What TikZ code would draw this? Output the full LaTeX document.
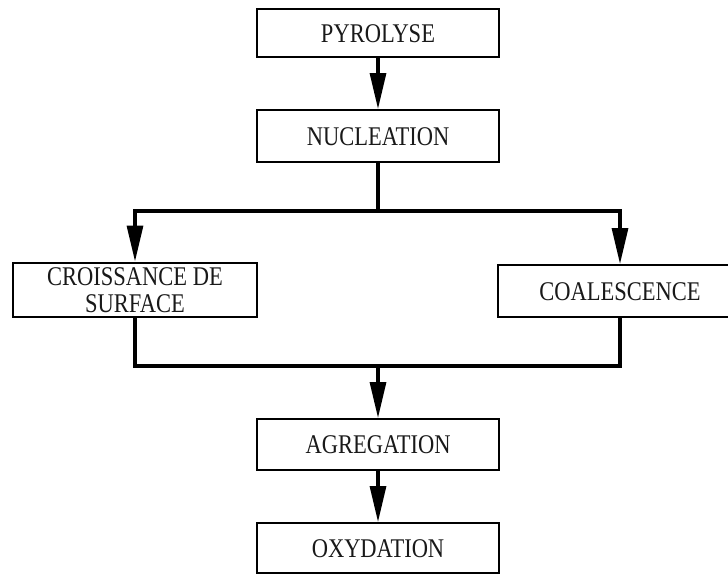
\documentclass[tikz,border=0pt]{standalone}
\usepackage{fontspec}
\setmainfont{Liberation Serif}
\usepackage{graphicx}
\usetikzlibrary{arrows.meta}
\newcommand{\boxtxt}[1]{\raisebox{-4pt}[\height][\depth]{\scalebox{1}[1.2]{\begin{tabular}{@{}c@{}}#1\end{tabular}}}}
\tikzset{
  stepbox/.style={draw=black, line width=2pt, minimum width=242pt, inner sep=0pt,
    font=\fontsize{22.5}{22.5}\selectfont, text=black!90},
  conn/.style={line width=3.2pt, line join=miter, draw=black},
  arr/.style={conn, -{Triangle[length=36pt 0, width=16pt 0]}}
}
\begin{document}
\begin{tikzpicture}[x=1pt, y=-1pt]
\useasboundingbox (0,0) rectangle (728,576);
\fill[white] (0,0) rectangle (728,576);
\begin{scope}
\clip (0,0) rectangle (728,576);
\node[stepbox, minimum height=48pt] (pyr) at (378,33) {\boxtxt{PYROLYSE}};
\node[stepbox, minimum height=52pt] (nuc) at (378,136) {\boxtxt{NUCLEATION}};
\node[stepbox, minimum width=244pt, minimum height=53pt] (cro) at (135,289.5) {\boxtxt{CROISSANCE DE\\SURFACE}};
\node[stepbox, minimum width=244pt, minimum height=52pt] (coa) at (620,291) {\boxtxt{COALESCENCE}};
\node[stepbox, minimum height=51pt] (agr) at (378,444.5) {\boxtxt{AGREGATION}};
\node[stepbox, minimum height=50pt] (oxy) at (378,548) {\boxtxt{OXYDATION}};
\coordinate (split) at (378,211);
\coordinate (merge) at (378,366);
\draw[arr] (pyr) -- (nuc);
\draw[conn] (nuc) -- (split);
\draw[arr] (split) -| (cro);
\draw[arr] (split) -| (coa);
\draw[conn] (cro) |- (merge) -| (coa);
\draw[arr] (merge) -- (agr);
\draw[arr] (agr) -- (oxy);
\end{scope}
\end{tikzpicture}
\end{document}
